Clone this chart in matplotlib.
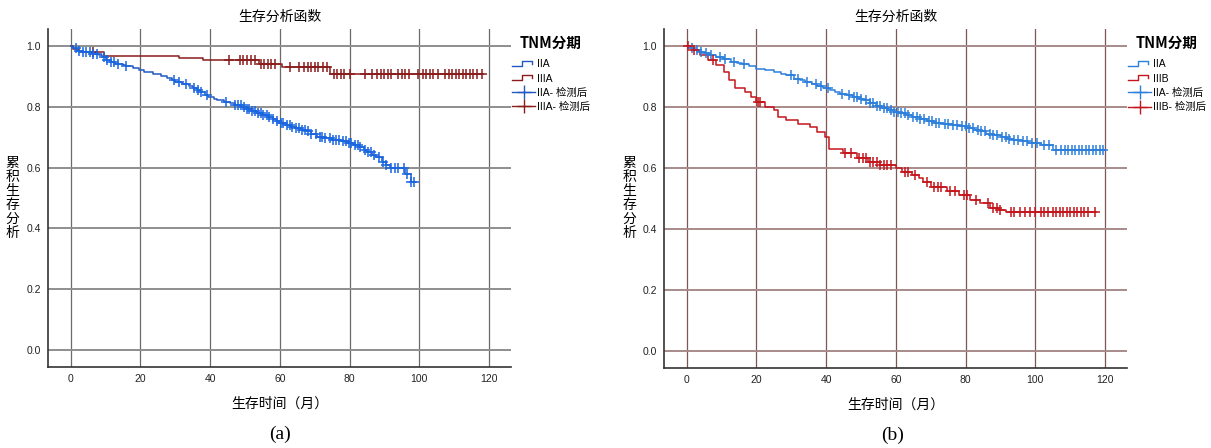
import numpy as np
import matplotlib
matplotlib.use("Agg")
import matplotlib.pyplot as plt
from matplotlib.lines import Line2D
from matplotlib.legend_handler import HandlerBase

plt.rcParams["font.family"] = ["Liberation Sans", "Noto Sans CJK SC", "DejaVu Sans"]
CJK = ["Noto Sans CJK SC", "DejaVu Sans"]

# ---- (a) IIA vs IIIA -------------------------------------------------------
a_iia_t = [0, 0.8, 1.9, 3.5, 6.2, 8.0, 9.0, 10.0, 11.5, 12.8, 15.0, 16.0, 18.0,
           19.5, 21.0, 23.5, 26.0, 27.5, 29.0, 30.0, 32.0, 34.0, 35.0, 36.2,
           37.0, 38.5, 39.5, 41.0, 42.0, 44.0, 45.6, 47.0, 49.0, 50.5, 52.0,
           53.5, 55.0, 56.5, 58.0, 59.0, 60.0, 61.5, 63.0, 64.5, 66.0, 67.4,
           69.0, 70.7, 72.5, 75.0, 77.5, 79.5, 81.0, 82.7, 84.0, 85.0, 86.5,
           87.7, 89.3, 90.5, 91.5, 95.8, 97.5]
a_iia_s = [1.0, 0.992, 0.984, 0.98, 0.975, 0.97, 0.964, 0.953, 0.948, 0.942,
           0.937, 0.933, 0.927, 0.92, 0.914, 0.908, 0.90, 0.894, 0.887, 0.881,
           0.874, 0.867, 0.861, 0.855, 0.848, 0.84, 0.832, 0.826, 0.821, 0.817,
           0.813, 0.807, 0.80, 0.793, 0.786, 0.779, 0.772, 0.766, 0.759, 0.752,
           0.746, 0.741, 0.735, 0.73, 0.725, 0.72, 0.711, 0.702, 0.697, 0.691,
           0.686, 0.68, 0.674, 0.667, 0.659, 0.65, 0.642, 0.634, 0.617, 0.608,
           0.60, 0.58, 0.552]
a_iia_end = 99.0
a_iia_cens = [1.5, 2.5, 3.5, 4.5, 5.5, 6.5, 7.5, 9.5, 10.5, 11.5, 12.5, 13.5,
              16.0, 29.5, 31.0, 33.0, 35.5, 36.5, 37.5, 39.0, 44.5, 47.0, 48.0,
              48.8, 49.6, 50.5, 51.2, 52.0, 53.0, 53.8, 54.5, 55.3, 56.2, 57.0,
              58.0, 59.2, 60.3, 61.0, 62.0, 62.8, 63.6, 64.5, 65.5, 66.3, 67.2,
              68.0, 69.0, 70.5, 71.5, 72.2, 73.0, 74.5, 75.3, 76.2, 77.0, 78.0,
              79.0, 79.8, 80.5, 81.5, 82.3, 83.0, 84.5, 85.3, 86.2, 87.0, 88.5,
              89.5, 90.5, 92.0, 93.0, 94.0, 95.5, 96.5, 97.5, 98.5]

a_iiia_t = [0, 0.8, 2.4, 9.5, 31.0, 38.0, 54.0, 60.5, 74.5]
a_iiia_s = [1.0, 0.99, 0.98, 0.968, 0.962, 0.953, 0.942, 0.93, 0.908]
a_iiia_end = 118.3
a_iiia_cens = [6.5, 45.5, 48.5, 49.5, 50.5, 51.8, 53.0, 54.5, 55.5, 56.5, 57.5,
               58.5, 63.0, 65.5, 67.0, 68.0, 69.0, 70.0, 71.0, 72.5, 73.5, 75.5,
               76.5, 77.5, 78.5, 80.0, 84.5, 86.5, 88.0, 89.0, 90.0, 91.0, 92.0,
               94.0, 95.0, 96.0, 97.0, 99.5, 101.0, 102.0, 103.0, 104.0, 105.5,
               107.5, 108.5, 109.5, 110.5, 111.5, 112.5, 113.5, 114.5, 115.5,
               116.5, 118.0]

# ---- (b) IIA vs IIIB -------------------------------------------------------
b_iia_t = [0, 1.0, 2.1, 3.5, 5.0, 6.5, 8.3, 10.5, 12.8, 14.5, 16.0, 18.0, 20.0,
           22.5, 25.0, 27.0, 28.5, 30.8, 32.5, 34.0, 36.0, 37.5, 39.0, 41.0,
           42.5, 44.0, 46.0, 47.6, 49.5, 51.0, 52.5, 54.4, 56.0, 57.8, 59.5,
           61.0, 63.0, 64.5, 67.0, 69.0, 71.0, 73.5, 76.0, 78.0, 80.5, 82.5,
           84.5, 86.0, 88.0, 90.3, 92.0, 93.7, 96.0, 98.0, 101.6, 105.0]
b_iia_s = [1.0, 0.993, 0.986, 0.981, 0.977, 0.971, 0.964, 0.956, 0.948, 0.944,
           0.94, 0.933, 0.926, 0.92, 0.915, 0.909, 0.904, 0.893, 0.888, 0.882,
           0.875, 0.868, 0.862, 0.855, 0.848, 0.842, 0.838, 0.833, 0.828, 0.822,
           0.812, 0.803, 0.797, 0.79, 0.784, 0.779, 0.773, 0.768, 0.761, 0.755,
           0.749, 0.744, 0.74, 0.737, 0.731, 0.726, 0.72, 0.713, 0.708, 0.702,
           0.696, 0.691, 0.687, 0.683, 0.677, 0.659]
b_iia_end = 119.6
b_iia_cens = [1.5, 3.0, 4.0, 5.5, 7.0, 9.5, 11.0, 13.5, 16.5, 30.0, 32.0, 34.5,
              37.0, 38.5, 40.5, 44.5, 46.5, 48.0, 49.0, 50.0, 51.5, 52.5, 53.5,
              54.5, 55.5, 56.5, 57.5, 58.5, 59.5, 60.5, 61.5, 62.5, 63.5, 65.0,
              66.0, 67.0, 68.0, 69.5, 70.5, 71.5, 72.5, 74.0, 75.0, 76.5, 77.5,
              79.0, 80.0, 81.0, 82.0, 83.5, 84.5, 85.5, 87.0, 88.0, 89.0, 90.5,
              91.5, 92.5, 94.0, 95.0, 96.5, 97.5, 99.0, 100.5, 102.5, 104.0,
              106.0, 107.5, 108.5, 109.5, 110.5, 111.5, 112.5, 113.5, 114.5,
              115.5, 116.5, 117.5, 118.5, 119.5]

b_iiib_t = [0, 1.6, 3.8, 6.0, 8.3, 10.6, 12.2, 14.0, 16.7, 18.4, 20.0, 22.4,
            25.0, 26.3, 28.5, 31.9, 35.3, 37.5, 39.8, 40.9, 44.8, 48.8, 52.0,
            55.5, 60.0, 61.7, 64.5, 66.5, 67.9, 70.1, 74.6, 78.0, 81.3, 84.2,
            87.0, 89.5, 91.5]
b_iiib_s = [1.0, 0.986, 0.97, 0.953, 0.937, 0.915, 0.888, 0.864, 0.85, 0.833,
            0.817, 0.80, 0.79, 0.768, 0.757, 0.746, 0.735, 0.719, 0.702, 0.664,
            0.648, 0.632, 0.62, 0.61, 0.6, 0.588, 0.577, 0.566, 0.555, 0.539,
            0.523, 0.512, 0.495, 0.484, 0.468, 0.462, 0.455]
b_iiib_end = 117.3
b_iiib_cens = [0.5, 2.0, 7.5, 20.5, 21.0, 45.5, 47.0, 49.5, 50.5, 51.5, 52.5,
               53.5, 54.5, 55.5, 56.5, 57.5, 58.5, 62.5, 63.5, 65.5, 69.0, 71.0,
               72.0, 73.0, 75.5, 77.0, 79.5, 80.5, 83.0, 86.5, 88.0, 89.0, 90.0,
               93.0, 94.0, 95.5, 97.0, 98.5, 100.0, 101.5, 102.5, 103.5, 105.0,
               106.0, 107.0, 108.0, 109.0, 110.0, 111.0, 112.0, 113.0, 114.0,
               115.0, 117.0]

x_ticks = [0, 20, 40, 60, 80, 100, 120]
y_ticks = [0.0, 0.2, 0.4, 0.6, 0.8, 1.0]


class StepHandler(HandlerBase):
    """Legend key drawn as a small survival step."""
    def create_artists(self, legend, orig_handle, xdescent, ydescent,
                       width, height, fontsize, trans):
        xs = np.array([0.0, 0.45, 0.45, 0.85, 0.85]) * width - xdescent
        ys = np.array([0.2, 0.2, 0.85, 0.85, 0.45]) * height - ydescent
        ln = Line2D(xs, ys, color=orig_handle.get_color(), lw=1.0)
        ln.set_transform(trans)
        return [ln]


def km_curve(ax, t, s, end, cens, color, mcolor):
    tt = np.r_[t, end]
    ss = np.r_[s, s[-1]]
    ax.step(tt, ss, where="post", color=color, lw=1.1, zorder=3)
    idx = np.searchsorted(t, cens, side="right") - 1
    ax.plot(cens, np.asarray(s)[idx], ls="none", marker="+", ms=7.5, mew=1.1,
            color=mcolor, zorder=4)


def style_axes(ax, vcol, hcol):
    ax.set_xlim(-6.5, 126.3)
    ax.set_ylim(-0.056, 1.056)
    for v in x_ticks:
        ax.axvline(v, color=vcol, lw=0.9, zorder=1)
    for h in y_ticks:
        ax.axhline(h, color=hcol, lw=1.4, zorder=1)
    ax.set_xticks(x_ticks)
    ax.set_yticks(y_ticks)
    ax.set_yticklabels([f"{v:.1f}" for v in y_ticks])
    ax.tick_params(length=0, labelsize=7.5, colors="#222222", pad=5)
    for side in ("top", "right"):
        ax.spines[side].set_visible(False)
    for side in ("left", "bottom"):
        ax.spines[side].set_color("#333333")
        ax.spines[side].set_linewidth(1.2)
    ax.set_title("生存分析函数", fontsize=10, family=CJK, weight="medium", pad=6)
    ax.set_xlabel("生存时间（月）", fontsize=10, family=CJK, labelpad=9)


fig = plt.figure(figsize=(12.11, 4.48), dpi=100)
ax1 = fig.add_axes([48 / 1211, 1 - 367 / 448, 463 / 1211, 338 / 448])
ax2 = fig.add_axes([664 / 1211, 1 - 368 / 448, 463 / 1211, 339 / 448])

style_axes(ax1, "#6a6a6a", "#8e8e8e")
style_axes(ax2, "#7d5656", "#a88a8a")

a_blue, a_blue_m, a_red = "#2258c4", "#1a66e0", "#8a1c1c"
b_blue, b_red = "#2d7fdc", "#c4161c"

km_curve(ax1, a_iiia_t, a_iiia_s, a_iiia_end, a_iiia_cens, a_red, a_red)
km_curve(ax1, a_iia_t, a_iia_s, a_iia_end, a_iia_cens, a_blue, a_blue_m)
km_curve(ax2, b_iia_t, b_iia_s, b_iia_end, b_iia_cens, b_blue, b_blue)
km_curve(ax2, b_iiib_t, b_iiib_s, b_iiib_end, b_iiib_cens, b_red, b_red)


def add_legend(ax, c1, c2, labels):
    h1 = Line2D([], [], color=c1)
    h2 = Line2D([], [], color=c2)
    h3 = Line2D([], [], color=c1, marker="+", ms=10, mew=1.0, lw=1.0)
    h4 = Line2D([], [], color=c2, marker="+", ms=10, mew=1.0, lw=1.0)
    leg = ax.legend([h1, h2, h3, h4], labels,
                    handler_map={h1: StepHandler(), h2: StepHandler()},
                    loc="upper left", bbox_to_anchor=(1.0, 0.985),
                    frameon=False, fontsize=7.5, handlelength=2.2,
                    handletextpad=0.15, labelspacing=0.4, borderpad=0.1,
                    borderaxespad=0.0, title="TNM分期",
                    title_fontproperties={"family": CJK, "weight": "bold",
                                          "size": 10.5})
    leg._legend_box.align = "center"
    leg._legend_box.sep = 6


add_legend(ax1, a_blue, a_red, ["IIA", "IIIA", "IIA- 检测后", "IIIA- 检测后"])
add_legend(ax2, b_blue, b_red, ["IIA", "IIIB", "IIA- 检测后", "IIIB- 检测后"])

ylab = "\n".join("累积生存分析")
fig.text(12 / 1211, 1 - 198 / 448, ylab, family=CJK, fontsize=10,
         ha="center", va="center", linespacing=1.0)
fig.text(629 / 1211, 1 - 198 / 448, ylab, family=CJK, fontsize=10,
         ha="center", va="center", linespacing=1.0)

fig.text(280 / 1211, 1 - 434 / 448, "(a)", family="Liberation Serif",
         fontsize=14, ha="center", va="center")
fig.text(893 / 1211, 1 - 435 / 448, "(b)", family="Liberation Serif",
         fontsize=14, ha="center", va="center")

fig.savefig("out.png", dpi=100, facecolor="white")
